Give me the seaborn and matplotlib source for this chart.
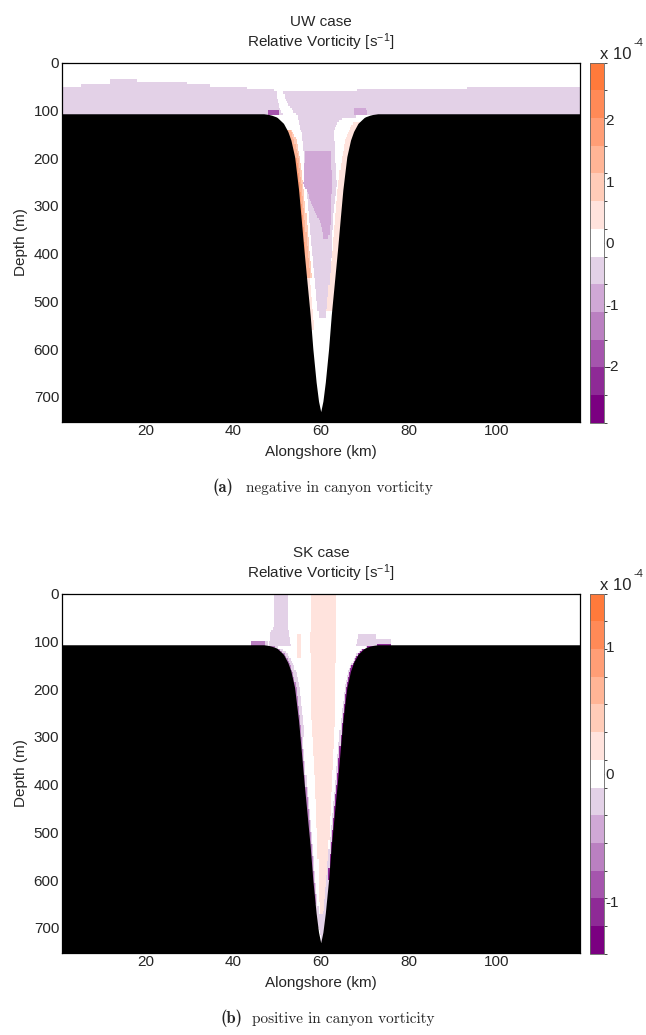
import numpy as np
import matplotlib
matplotlib.use("Agg")
import matplotlib.pyplot as plt
from matplotlib.colors import ListedColormap, BoundaryNorm
from matplotlib.cm import ScalarMappable
from matplotlib.path import Path
import seaborn as sns

# ------------------------------------------------------------------
# Values
# ------------------------------------------------------------------
# bathymetry shared by both runs (km alongshore, m depth)
shelf_depth_m = 108
canyon_axis_km = 60.1
canyon_depth_m = [108, 110, 115, 128, 145, 163, 198, 267, 323, 391, 463, 530, 600, 670, 710, 732]
canyon_halfwidth_km = [13.0, 11.5, 10.0, 8.5, 7.5, 6.8, 5.95, 5.05, 4.5, 3.85, 3.1, 2.4, 1.8, 1.05, 0.5, 0.0]

# colour classes (units of 1e-4 s^-1): 13 classes centred on zero
uw_class_width = 0.45
sk_class_width = 0.217
uw_cbar_ticks = [-2, -1, 0, 1, 2]
sk_cbar_ticks = [-1, 0, 1]

# --- UW case ---
uw_layer_x_edges = [1, 5.2, 12.0, 18.1, 29.5, 34.8, 43.2, 49.2, 52.0, 68.2, 72.0, 81.9, 93.3, 113.9, 119.2]
uw_layer_top_m = [50, 43, 34.5, 40, 45.6, 51, 55, 60, 62, 57, 55, 53, 51, 48]
uw_layer_value = -0.45
uw_tongue = [(49.9, 57), (51.4, 57), (52.0, 80), (53.6, 100), (54.5, 110), (51.6, 110), (50.6, 95), (50.1, 75)]
uw_tongue_value = 0.0
uw_core = [(54.5, 106), (55.7, 150), (56.3, 200), (56.6, 253), (57.3, 330), (58.6, 450), (59.5, 533),
           (61.2, 533), (62.2, 450), (62.7, 330), (63.7, 253), (63.3, 200), (63.0, 140), (64.5, 118), (72.0, 106)]
uw_core_value = -0.45
uw_blob = [(56.5, 187), (62.2, 187), (62.5, 253), (62.2, 309), (62.2, 337), (61.7, 369), (60.6, 369),
           (60.0, 337), (58.5, 309), (56.1, 253)]
uw_blob_value = -0.9
uw_spot_left = [(48.0, 98), (50.3, 98), (50.6, 112), (48.0, 112)]
uw_spot_left_value = -1.8
uw_spot_right = [(67.6, 95), (70.3, 95), (70.5, 110), (67.6, 110)]
uw_spot_right_value = -0.9
# wall-hugging bands: (side, top m, bottom m, from wall km, to wall km, value)
uw_bands = [("L", 140, 450, 0.7, 1.1, 0.9),
            ("L", 140, 450, 0.0, 0.7, 1.35),
            ("L", 200, 400, 0.0, 0.3, 1.8),
            ("L", 450, 560, 0.0, 0.6, 0.45),
            ("R", 125, 520, 0.0, 1.3, 0.45)]

# --- SK case ---
sk_plume = [(49.3, 0), (52.6, 0), (52.6, 75), (53.2, 108), (48.3, 108), (48.6, 80), (49.3, 70)]
sk_plume_value = -0.217
sk_core = [(57.7, 0), (63.5, 0), (63.4, 108), (63.3, 251), (62.5, 391), (61.8, 530), (61.0, 670),
           (60.5, 715), (60.0, 715), (59.7, 670), (59.3, 530), (58.7, 391), (57.8, 251), (57.6, 108)]
sk_core_value = 0.217
sk_spot = [(54.6, 87), (55.5, 87), (55.5, 136), (54.6, 136)]
sk_spot_value = 0.217
sk_rim = [(68.6, 87), (72.4, 87), (72.8, 110), (68.0, 110)]
sk_rim_value = -0.217
sk_tip = [(59.0, 670), (61.5, 670), (60.3, 740)]
sk_tip_value = -0.217
sk_bands = [("L", 100, 300, 0.0, 1.0, -0.217),
            ("L", 300, 700, 0.0, 0.5, -0.217),
            ("L", 100, 650, 0.0, 0.25, -0.65),
            ("R", 95, 700, 0.0, 0.6, -0.217),
            ("R", 105, 600, 0.0, 0.25, -1.1)]

# colours of the 13 classes, most negative first
class_colors = ["#7B0081", "#8E2A96", "#A555AD", "#BA80C1", "#D0A8D6", "#E3D1E7", "#FFFFFF",
                "#FFE3DD", "#FFCCB8", "#FFB596", "#FF9E76", "#FF8A57", "#FF7A3B"]

# ------------------------------------------------------------------
sns.set_style("white")
plt.rcParams["font.family"] = ["Liberation Sans", "DejaVu Sans"]
plt.rcParams["mathtext.fontset"] = "custom"
plt.rcParams["mathtext.rm"] = "Liberation Sans"
plt.rcParams["mathtext.it"] = "Liberation Sans:italic"
plt.rcParams["axes.unicode_minus"] = False

FS = 11
W, H = 646, 1035
fig = plt.figure(figsize=(W / 100, H / 100), dpi=100)


def frac(l, t, r, b):
    return [l / W, 1 - b / H, (r - l) / W, (b - t) / H]


# grid
xe = np.arange(1.0, 119.26, 0.25)
ze = np.arange(0.0, 760.1, 5.0)
xcen = 0.5 * (xe[1:] + xe[:-1])
zcen = 0.5 * (ze[1:] + ze[:-1])
X, Z = np.meshgrid(xcen, zcen)
pts = np.column_stack([X.ravel(), Z.ravel()])
hw = np.interp(Z, canyon_depth_m, canyon_halfwidth_km)
left_wall = canyon_axis_km - hw
right_wall = canyon_axis_km + hw


def poly_mask(verts):
    return Path(verts).contains_points(pts).reshape(X.shape)


def apply_bands(field, bands):
    for side, z0, z1, o0, o1, val in bands:
        zm = (Z >= z0) & (Z < z1)
        if side == "L":
            lo = left_wall + o0 if o0 > 0 else left_wall - 3
            m = zm & (X >= lo) & (X < left_wall + o1)
        else:
            hi = right_wall - o0 if o0 > 0 else right_wall + 3
            m = zm & (X <= hi) & (X > right_wall - o1)
        field[m] = val


def uw_field():
    f = np.zeros(X.shape)
    idx = np.clip(np.searchsorted(uw_layer_x_edges, X, side="right") - 1, 0, len(uw_layer_top_m) - 1)
    top = np.array(uw_layer_top_m)[idx]
    f[(Z >= top) & (Z < shelf_depth_m + 2)] = uw_layer_value
    f[poly_mask(uw_tongue)] = uw_tongue_value
    f[poly_mask(uw_core)] = uw_core_value
    f[poly_mask(uw_blob)] = uw_blob_value
    f[poly_mask(uw_spot_left)] = uw_spot_left_value
    f[poly_mask(uw_spot_right)] = uw_spot_right_value
    apply_bands(f, uw_bands)
    return f


def sk_field():
    f = np.zeros(X.shape)
    f[poly_mask(sk_plume)] = sk_plume_value
    f[poly_mask(sk_core)] = sk_core_value
    f[poly_mask(sk_spot)] = sk_spot_value
    f[poly_mask(sk_rim)] = sk_rim_value
    apply_bands(f, sk_bands)
    f[poly_mask(sk_tip)] = sk_tip_value
    return f


cmap = ListedColormap(class_colors)


def draw_panel(ax, cax, field, width, title, ticks):
    bounds = (np.arange(14) - 6.5) * width
    norm = BoundaryNorm(bounds, cmap.N)
    ax.pcolormesh(xe, ze, field, cmap=cmap, norm=norm, shading="flat", rasterized=True)
    # bathymetry
    zz = np.linspace(canyon_depth_m[0], canyon_depth_m[-1], 400)
    hh = np.interp(zz, canyon_depth_m, canyon_halfwidth_km)
    xs = [0.0, 0.0] + list(canyon_axis_km - hh) + list((canyon_axis_km + hh)[::-1]) + [125.0, 125.0]
    ys = [800.0, shelf_depth_m] + list(zz) + list(zz[::-1]) + [shelf_depth_m, 800.0]
    ax.fill(xs, ys, color="black", lw=0, zorder=3)
    ax.set_xlim(1.0, 119.1)
    ax.set_ylim(752, 0)
    ax.set_xticks([20, 40, 60, 80, 100])
    ax.set_yticks([0, 100, 200, 300, 400, 500, 600, 700])
    ax.tick_params(direction="in", length=4, labelsize=FS, pad=2, color="0.4",
                   top=True, right=True, bottom=True, left=True)
    for s in ax.spines.values():
        s.set_linewidth(0.9)
        s.set_color("black")
        s.set_zorder(5)
    ax.set_xlabel("Alongshore (km)", fontsize=FS, labelpad=5)
    ax.set_ylabel("Depth (m)", fontsize=FS, labelpad=4)
    ax.set_title(title, fontsize=FS, pad=11, linespacing=1.2)
    cb = fig.colorbar(ScalarMappable(norm=norm, cmap=cmap), cax=cax, boundaries=bounds, ticks=ticks)
    cb.outline.set_linewidth(0.6)
    cb.outline.set_edgecolor("0.4")
    cax.tick_params(direction="in", length=4, width=0.6, color="0.35", labelsize=FS, pad=1,
                    left=True, right=True)
    cax.set_yticklabels([str(t) for t in ticks])


ax_a = fig.add_axes(frac(62, 62.7, 580, 421.7))
cax_a = fig.add_axes(frac(590, 62.7, 604, 422.7))
ax_b = fig.add_axes(frac(62, 593.7, 580, 952.7))
cax_b = fig.add_axes(frac(590, 593.7, 604, 953.7))

draw_panel(ax_a, cax_a, uw_field(), uw_class_width, "UW case\nRelative Vorticity [s$^{-1}$]", uw_cbar_ticks)
draw_panel(ax_b, cax_b, sk_field(), sk_class_width, "SK case\nRelative Vorticity [s$^{-1}$]", sk_cbar_ticks)

for ytop in (59, 590):
    fig.text(600 / W, 1 - ytop / H, "x 10", fontsize=12, va="baseline")
    fig.text(633 / W, 1 - (ytop - 13) / H, "-4", fontsize=8, va="baseline")

fig.text(213 / W, 1 - 492 / H, "(a)", family="cmb10", fontsize=12, va="baseline")
fig.text(246 / W, 1 - 492 / H, "negative in canyon vorticity", family="cmr10", fontsize=11, va="baseline")
fig.text(220 / W, 1 - 1023 / H, "(b)", family="cmb10", fontsize=12, va="baseline")
fig.text(252 / W, 1 - 1023 / H, "positive in canyon vorticity", family="cmr10", fontsize=11, va="baseline")

fig.savefig("out.png", dpi=100)
